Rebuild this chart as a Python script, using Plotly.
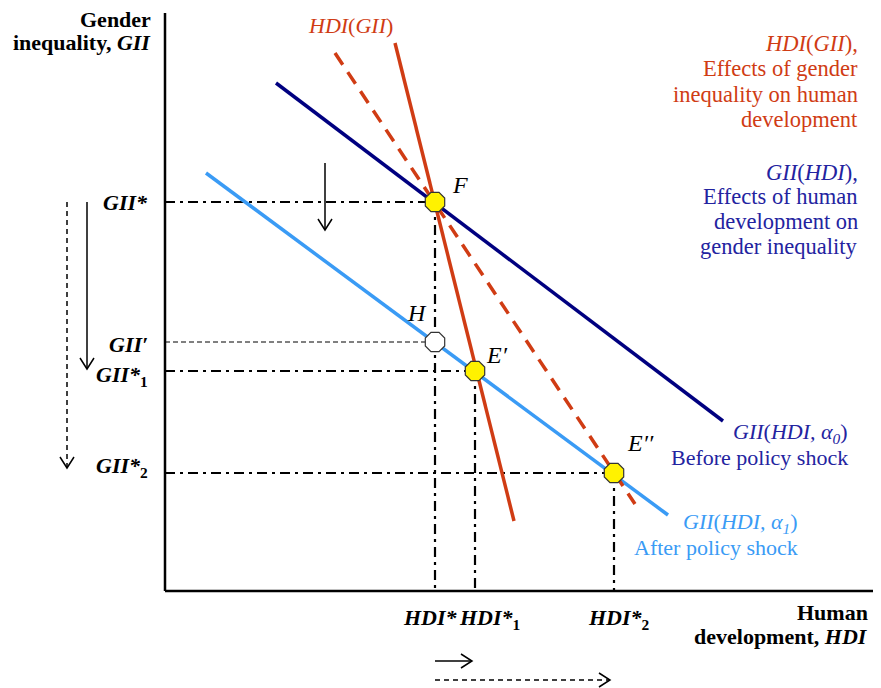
import plotly.graph_objects as go

# ---- conceptual diagram data (HDI on x, GII on y; origin at the axes corner) ----
gii_before_x = [111, 558]      # GII(HDI, alpha0) endpoints
gii_before_y = [508, 170]
gii_after_x = [41, 503]        # GII(HDI, alpha1) endpoints
gii_after_y = [418, 76]
hdi_gii_x = [230, 349]         # HDI(GII) solid
hdi_gii_y = [548, 70]
hdi_gii_new_x = [170, 470]     # HDI(GII) dashed (after shock)
hdi_gii_new_y = [538, 87]

eq_names = ["F", "E′", "E′′"]
eq_x = [270, 310, 449]         # HDI*, HDI*1, HDI*2
eq_y = [389, 220, 118]         # GII*, GII*1, GII*2
h_x = [270]                    # H
h_y = [249]                    # GII'

x_axis_end = 708
y_axis_end = 578

RED = "#D03C14"
NAVY = "#000080"
LBLUE = "#3A9BF5"
TBLUE = "#2323A0"
FONT = "Liberation Serif"

fig = go.Figure()

def line(x, y, color, width, dash="solid"):
    fig.add_trace(go.Scatter(x=x, y=y, mode="lines", hoverinfo="skip",
                             line=dict(color=color, width=width, dash=dash)))

DD = "10px,5px,3px,5px"
# guide lines (dash-dot) from equilibria to axes
for ex, ey in zip(eq_x, eq_y):
    line([0, ex], [ey, ey], "black", 2.2, DD)
    line([ex, ex], [ey, 0], "black", 2.2, DD)
# GII' thin dashed
line([0, h_x[0]], [h_y[0], h_y[0]], "black", 1, "5px,3px")

# curves
line(gii_before_x, gii_before_y, NAVY, 3.5)
line(gii_after_x, gii_after_y, LBLUE, 3.5)
line(hdi_gii_new_x, hdi_gii_new_y, RED, 3.5, "14px,9px")
line(hdi_gii_x, hdi_gii_y, RED, 3.5)

# axes
line([0, 0], [0, y_axis_end], "black", 2.5)
line([0, x_axis_end], [0, 0], "black", 2.5)

# arrows: (x0, y0, x1, y1, dash)
arrows = [
    (-78, 389, -78, 222, "solid"),
    (-98, 389, -98, 123, "5px,4px"),
    (160, 428, 160, 361, "solid"),
    (270, -70, 307, -70, "solid"),
    (270, -89, 445, -89, "5px,4px"),
]
for x0, y0, x1, y1, dash in arrows:
    line([x0, x1], [y0, y1], "black", 1.5, dash)
    if x0 == x1:
        s = 1 if y1 < y0 else -1
        line([x1 - 7, x1, x1 + 7], [y1 + 11 * s, y1, y1 + 11 * s], "black", 1.5)
    else:
        s = 1 if x1 > x0 else -1
        line([x1 - 11 * s, x1, x1 - 11 * s], [y1 + 7, y1, y1 - 7], "black", 1.5)

# equilibrium markers
fig.add_trace(go.Scatter(x=eq_x, y=eq_y, mode="markers", hoverinfo="skip",
                         marker=dict(symbol="octagon", size=21, color="#FFF200",
                                     line=dict(color="#333333", width=1.2))))
fig.add_trace(go.Scatter(x=h_x, y=h_y, mode="markers", hoverinfo="skip",
                         marker=dict(symbol="octagon", size=21, color="white",
                                     line=dict(color="#333333", width=1.2))))

def ann(x, y, text, color="black", size=22, xanchor="center", yanchor="middle"):
    fig.add_annotation(x=x, y=y, text=text, showarrow=False, xanchor=xanchor,
                       yanchor=yanchor, font=dict(family=FONT, size=size, color=color))

# axis titles
ann(-12, 572, "<b>Gender</b>", xanchor="right")
ann(-12, 549, "<b>inequality, <i>GII</i></b>", xanchor="right")
ann(705, -21, "<b>Human</b>", xanchor="right")
ann(705, -45, "<b>development, <i>HDI</i></b>", xanchor="right")

# GII tick labels
ann(-15, 389, "<b><i>GII*</i></b>", xanchor="right")
ann(-15, 247, "<b><i>GII′</i></b>", xanchor="right")
ann(-15, 215, "<b><i>GII*</i><sub>1</sub></b>", xanchor="right")
ann(-15, 124, "<b><i>GII*</i><sub>2</sub></b>", xanchor="right")
# HDI tick labels
ann(265, -26, "<b><i>HDI*</i></b>")
ann(324, -28, "<b><i>HDI*</i><sub>1</sub></b>")
ann(454, -28, "<b><i>HDI*</i><sub>2</sub></b>")

# point labels
ann(295, 406, "<i>F</i>", size=24)
ann(252, 278, "<i>H</i>", size=24)
ann(332, 236, "<i>E′</i>", size=24)
ann(475, 148, "<i>E′′</i>", size=24)

# curve labels
ann(185, 566, "<i>HDI</i>(<i>GII</i>)", color=RED)
red_lines = ["<i>HDI</i>(<i>GII</i>),", "Effects of gender", "inequality on human", "development"]
for t, yy in zip(red_lines, [548, 523, 497, 472]):
    ann(695, yy, t, color=RED, xanchor="right", size=22.5)
blue_lines = ["<i>GII</i>(<i>HDI</i>),", "Effects of human", "development on", "gender inequality"]
for t, yy in zip(blue_lines, [419, 395, 370, 345]):
    ann(695, yy, t, color=TBLUE, xanchor="right", size=22.5)
ann(685, 158, "<i>GII</i>(<i>HDI, α<sub>0</sub></i>)", color=TBLUE, xanchor="right")
ann(685, 134, "Before policy shock", color=TBLUE, xanchor="right")
ann(635, 68, "<i>GII</i>(<i>HDI, α<sub>1</sub></i>)", color=LBLUE, xanchor="right")
ann(635, 44, "After policy shock", color=LBLUE, xanchor="right")

# page body has an 8px margin: shrink the figure and shift the ranges to compensate
fig.update_layout(width=873, height=680, margin=dict(l=0, r=0, t=0, b=0),
                  plot_bgcolor="white", paper_bgcolor="white", showlegend=False,
                  xaxis=dict(range=[-157, 716], visible=False, fixedrange=True),
                  yaxis=dict(range=[-97, 583], visible=False, fixedrange=True))
fig.write_html("out.html")
